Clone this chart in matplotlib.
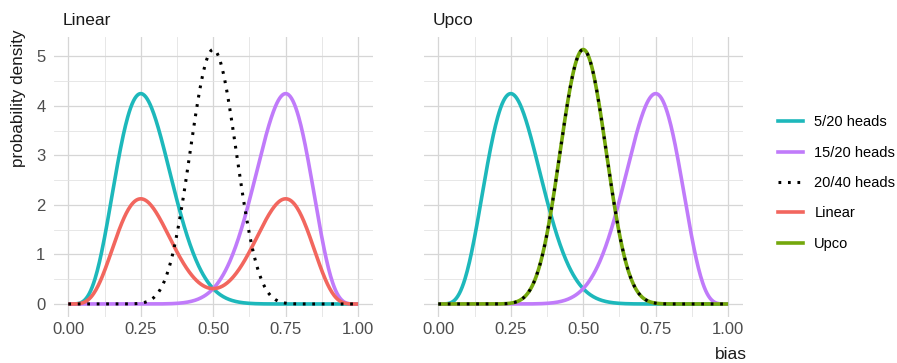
import math
import numpy as np
import matplotlib
matplotlib.use("Agg")
import matplotlib.pyplot as plt
from matplotlib.lines import Line2D

# ---- data ----
panels = ["Linear", "Upco"]
prior_labels = ["5/20 heads", "15/20 heads"]
prior_heads = [5, 15]
prior_flips = [20, 20]
pooled_label = "20/40 heads"
pooled_heads = 20
pooled_flips = 40
series_labels = ["5/20 heads", "15/20 heads", "20/40 heads", "Linear", "Upco"]
series_colors = ["#1DB8BB", "#C07BFA", "#000000", "#F2665E", "#74A80C"]
x_ticks = [0.0, 0.25, 0.5, 0.75, 1.0]
x_ticklabels = ["0.00", "0.25", "0.50", "0.75", "1.00"]
y_ticks = [0, 1, 2, 3, 4, 5]
bias = np.linspace(0, 1, 401)


def beta_pdf(x, heads, flips):
    a = heads + 1
    b = flips - heads + 1
    lb = math.lgamma(a) + math.lgamma(b) - math.lgamma(a + b)
    with np.errstate(divide="ignore"):
        return np.exp((a - 1) * np.log(x) + (b - 1) * np.log1p(-x) - lb)


priors = [beta_pdf(bias, h, n) for h, n in zip(prior_heads, prior_flips)]
pooled = beta_pdf(bias, pooled_heads, pooled_flips)
linear = 0.5 * (priors[0] + priors[1])
prod = priors[0] * priors[1]
upco = prod / np.trapezoid(prod, bias)
combined = {"Linear": linear, "Upco": upco}

plt.rcParams["font.family"] = ["Liberation Sans", "DejaVu Sans"]

W, H = 897, 363
fig = plt.figure(figsize=(W / 100, H / 100), dpi=100)

ymax = max(pooled.max(), linear.max(), upco.max(), priors[0].max())
ylim = (-0.05 * ymax, 1.05 * ymax)

ax_left_px = [53.8, 423.8]
ax_w_px = 318.8
ax_top_px = 36.8
ax_bot_px = 46.3
ax_h_px = H - ax_top_px - ax_bot_px

lw = 2.6
dots = (0, (0.9, 2.2))
for i, name in enumerate(panels):
    ax = fig.add_axes([ax_left_px[i] / W, ax_bot_px / H, ax_w_px / W, ax_h_px / H])
    ax.set_xlim(-0.05, 1.05)
    ax.set_ylim(*ylim)
    ax.set_xticks(x_ticks)
    ax.set_xticklabels(x_ticklabels)
    ax.set_xticks([0.125, 0.375, 0.625, 0.875], minor=True)
    ax.set_yticks(y_ticks)
    ax.set_yticks([0.5, 1.5, 2.5, 3.5, 4.5], minor=True)
    ax.grid(which="major", color="#d6d6d6", lw=0.9)
    ax.grid(which="minor", color="#e3e3e3", lw=0.6)
    ax.set_axisbelow(True)
    for s in ax.spines.values():
        s.set_visible(False)
    ax.tick_params(which="both", length=0, labelsize=12, colors="#4d4d4d", pad=4)
    ax.tick_params(axis="y", pad=6)
    if i == 1:
        ax.set_yticklabels([])
    ax.plot(bias, priors[0], color=series_colors[0], lw=lw, solid_capstyle="butt")
    ax.plot(bias, priors[1], color=series_colors[1], lw=lw, solid_capstyle="butt")
    ax.plot(bias, combined[name], color=series_colors[3 + i], lw=lw, solid_capstyle="butt")
    ax.plot(bias, pooled, color="black", lw=2.2, linestyle=dots, dash_capstyle="butt")
    ax.text(0.027, 1 + 11.5 / ax_h_px, name, transform=ax.transAxes, fontsize=12.5,
            color="#1a1a1a", ha="left", va="baseline")

fig.text(18 / W, 1 - 98 / H, "probability density", rotation=90, fontsize=12.3,
         color="#1a1a1a", ha="center", va="center")
fig.text(747 / W, 4 / H, "bias", fontsize=12.5, color="#1a1a1a", ha="right", va="baseline")

handles = []
for lab, col in zip(series_labels, series_colors):
    if lab == pooled_label:
        handles.append(Line2D([], [], color=col, lw=2.2, linestyle=dots))
    else:
        handles.append(Line2D([], [], color=col, lw=lw))
fig.legend(handles, series_labels, loc="center left", bbox_to_anchor=(772 / W, (H - 183) / H),
           frameon=False, fontsize=10.5, handlelength=1.7, handletextpad=0.8,
           labelspacing=1.12, borderaxespad=0)

fig.savefig("out.png", dpi=100, facecolor="white")
